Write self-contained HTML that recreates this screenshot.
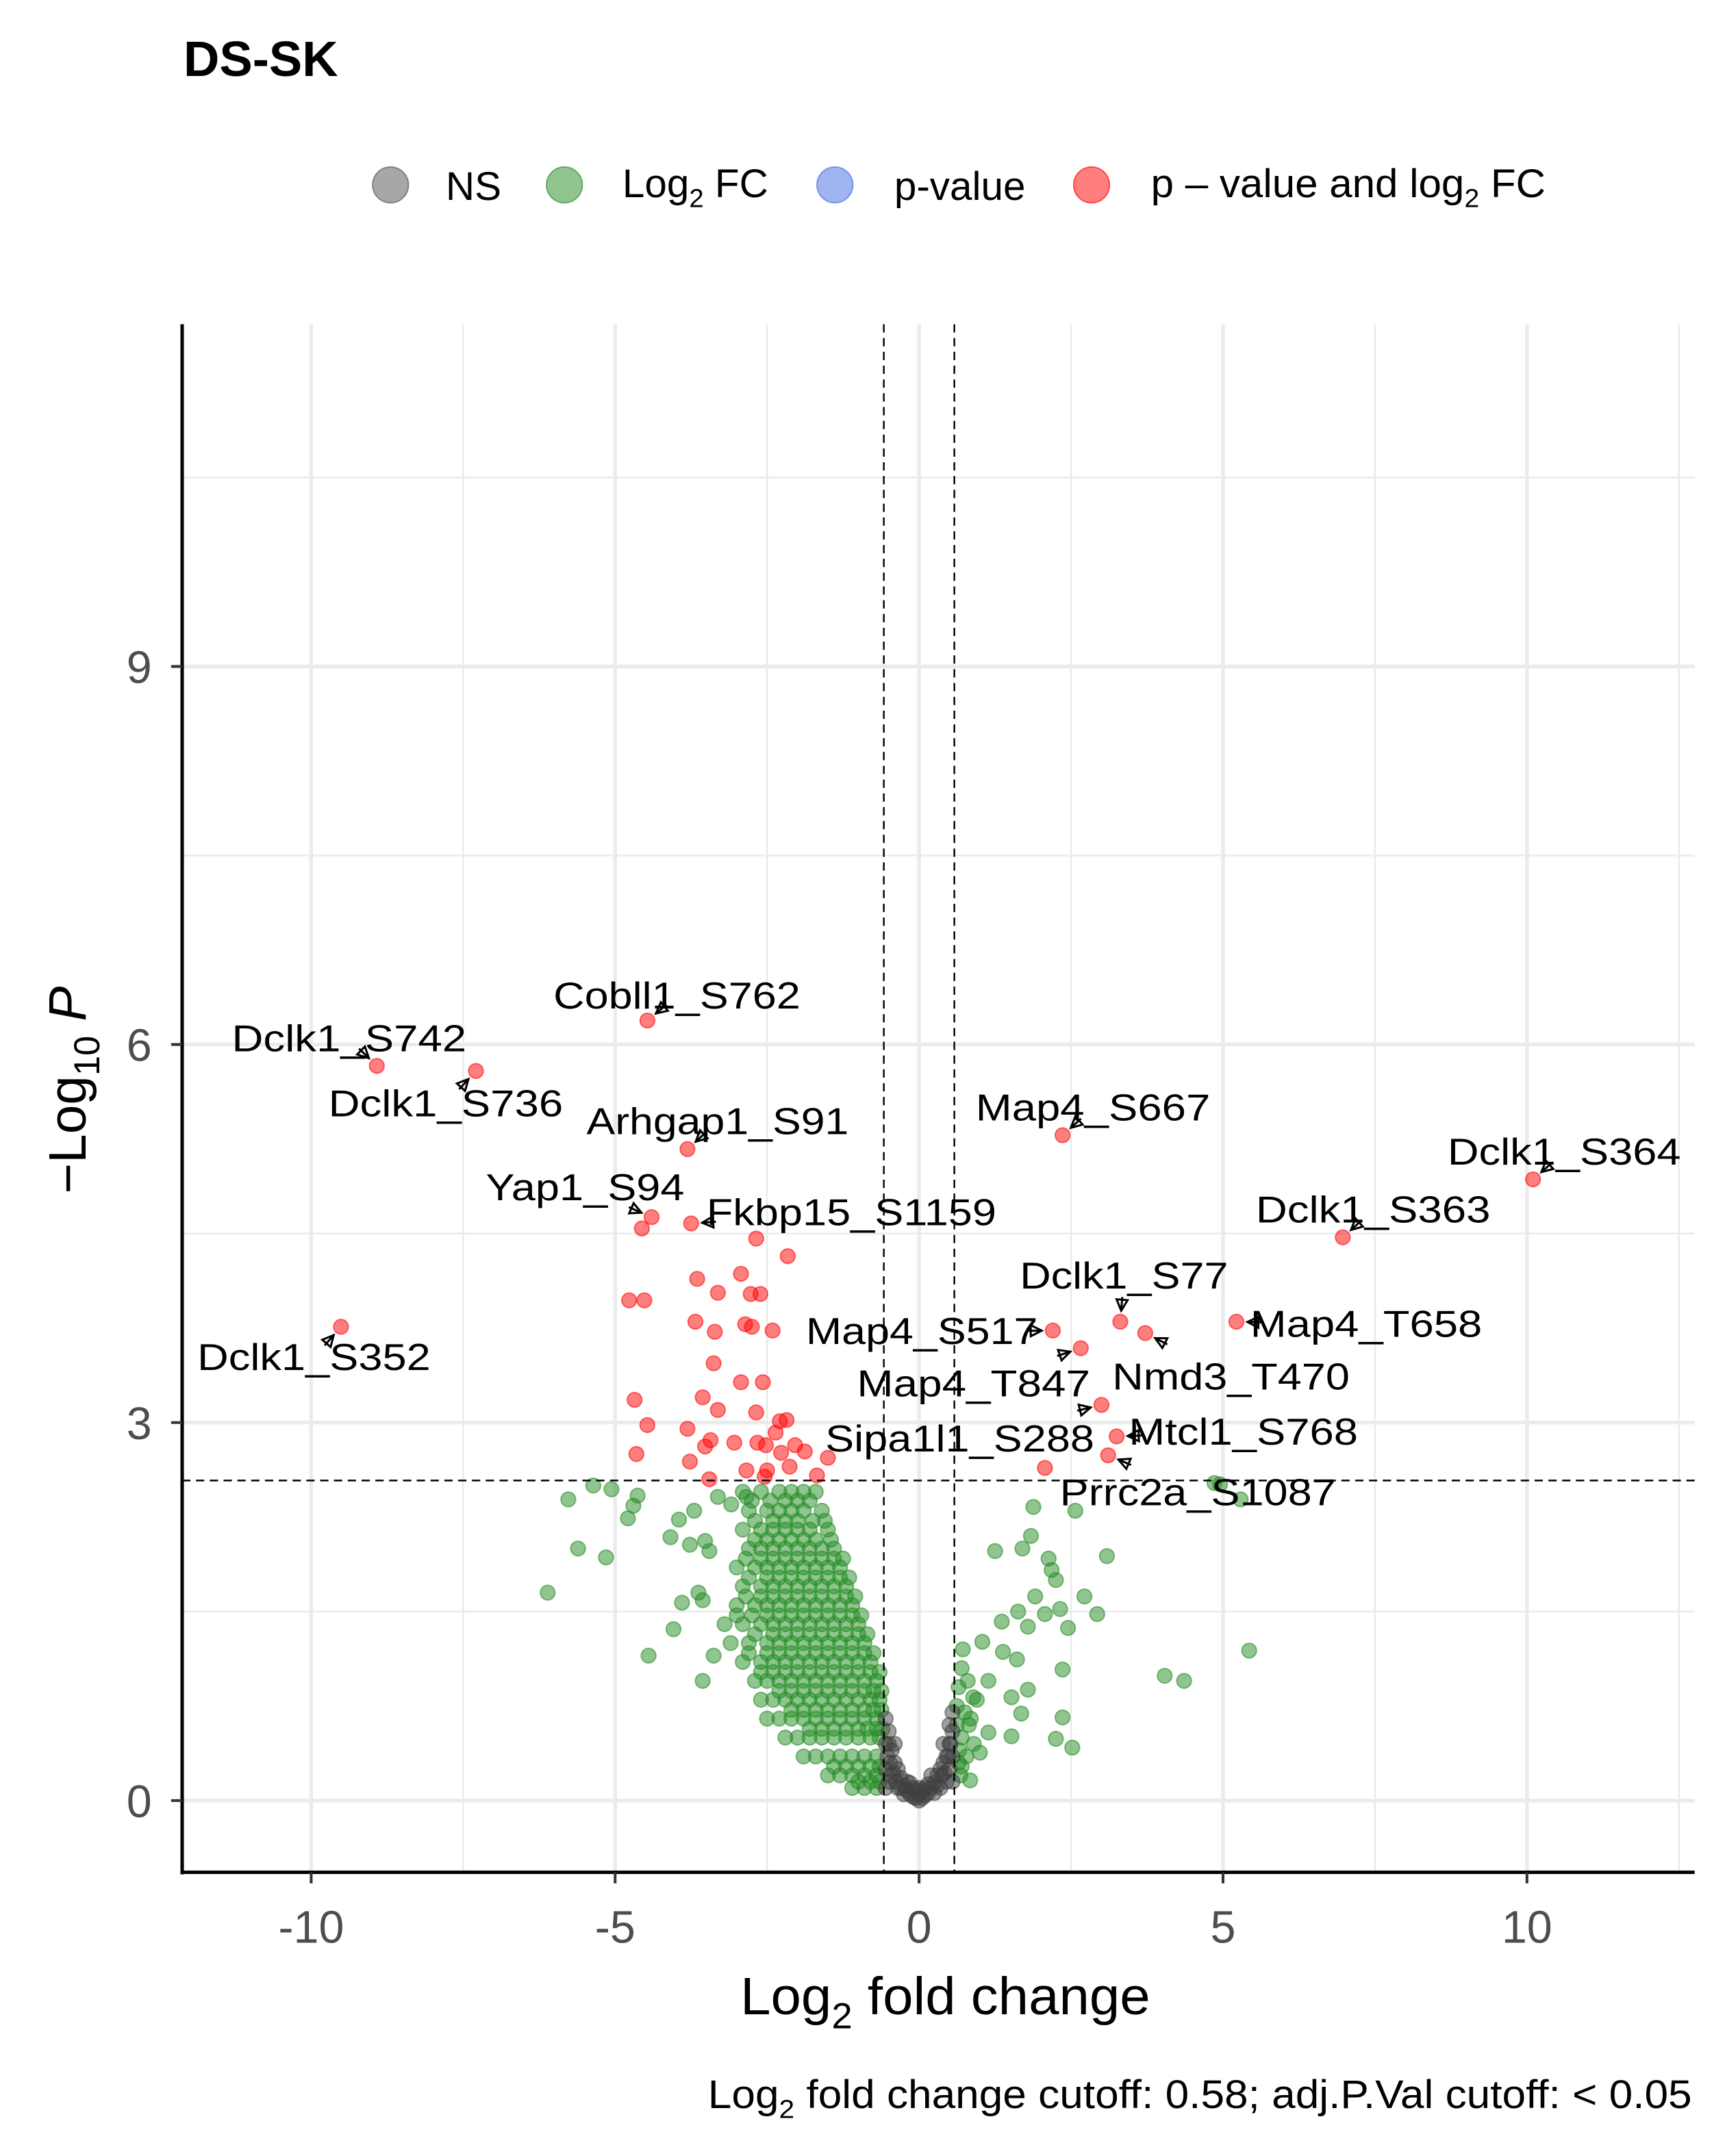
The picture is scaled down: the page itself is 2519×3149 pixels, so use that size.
<!DOCTYPE html>
<html><head><meta charset="utf-8"><style>html,body{margin:0;padding:0;background:#fff}svg{display:block}text{font-family:"Liberation Sans",Arial,sans-serif}</style></head>
<body>
<svg id="chart" width="2519" height="3149" viewBox="0 0 1250 1562.6" xmlns="http://www.w3.org/2000/svg">
<text x="133" y="55" font-size="36" font-weight="bold">DS-SK</text>
<g font-size="29">
 <circle cx="283" cy="134" r="13" fill="#505050" fill-opacity="0.5" stroke="#505050" stroke-opacity="0.6"/>
 <text x="323" y="145">NS</text>
 <circle cx="409" cy="134" r="13" fill="#228B22" fill-opacity="0.5" stroke="#228B22" stroke-opacity="0.6"/>
 <text x="451" y="143">Log<tspan font-size="19" dy="7">2</tspan><tspan dy="-7"> FC</tspan></text>
 <circle cx="605" cy="134" r="13" fill="#4169E1" fill-opacity="0.5" stroke="#4169E1" stroke-opacity="0.6"/>
 <text x="648" y="145">p-value</text>
 <circle cx="791" cy="134" r="13" fill="#FF0000" fill-opacity="0.5" stroke="#FF0000" stroke-opacity="0.6"/>
 <text x="834" y="143" textLength="286" lengthAdjust="spacingAndGlyphs">p – value and log<tspan font-size="19" dy="7">2</tspan><tspan dy="-7"> FC</tspan></text>
</g>
<g id="grid"></g>
<g id="marks"></g>
<g id="cutoffs"></g>
<g id="labels" font-size="27"></g>
<g id="axes"></g>
<text x="685" y="1460" font-size="38" text-anchor="middle" textLength="297" lengthAdjust="spacingAndGlyphs">Log<tspan font-size="26" dy="10">2</tspan><tspan dy="-10"> fold change</tspan></text>
<text transform="translate(62,790) rotate(-90)" font-size="38" text-anchor="middle">−Log<tspan font-size="26" dy="10">10</tspan><tspan dy="-10"> </tspan><tspan font-style="italic">P</tspan></text>
<text x="1226" y="1528" font-size="29" text-anchor="end" textLength="713" lengthAdjust="spacingAndGlyphs">Log<tspan font-size="19" dy="7">2</tspan><tspan dy="-7"> fold change cutoff: 0.58; adj.P.Val cutoff: &lt; 0.05</tspan></text>
</svg>
<script>
const xTicks=[-10,-5,0,5,10];
const xMinor=[-7.5,-2.5,2.5,7.5,12.5];
const yTicks=[0,3,6,9];
const yMinor=[1.5,4.5,7.5,10.5];
const fcCutoff=0.58;
const pCutoff=2.54;
const labelNames=["Cobll1_S762","Dclk1_S742","Dclk1_S736","Arhgap1_S91","Yap1_S94","Fkbp15_S1159","Map4_S667","Dclk1_S364","Dclk1_S363","Dclk1_S77","Map4_T658","Map4_S517","Nmd3_T470","Map4_T847","Sipa1l1_S288","Mtcl1_S768","Prrc2a_S1087","Dclk1_S352"];
const labelX=[-4.47,-8.92,-7.29,-3.81,-4.40,-3.75,2.36,10.10,6.97,3.31,5.22,2.20,3.72,2.66,3.00,3.25,3.11,-9.51];
const labelY=[6.19,5.83,5.79,5.17,4.63,4.58,5.28,4.93,4.47,3.80,3.80,3.73,3.71,3.59,3.14,2.89,2.74,3.76];
const redX=[-4.56,-2.68,-2.16,-3.65,-2.93,-3.31,-2.77,-2.61,-4.77,-4.52,-3.68,-2.86,-2.75,-2.41,-3.36,-3.38,-2.93,-4.68,-3.56,-2.57,-3.31,-2.68,-2.29,-2.18,-4.47,-3.81,-3.52,-3.43,-3.04,-2.66,-2.52,-2.04,-1.88,-1.50,-4.65,-3.77,-2.27,-2.13,-2.50,-3.45,-2.84,-1.68,-2.54,-2.36,2.07];
const redY=[4.54,4.46,4.32,4.14,4.18,4.03,4.02,4.02,3.97,3.97,3.80,3.78,3.76,3.73,3.72,3.47,3.32,3.18,3.20,3.32,3.10,3.08,3.01,3.02,2.98,2.95,2.81,2.86,2.84,2.84,2.82,2.82,2.77,2.72,2.75,2.69,2.76,2.65,2.62,2.55,2.62,2.58,2.57,2.92,2.64];
const greenX=[-6.11,-5.61,-5.15,-5.77,-5.36,-5.06,-4.70,-4.79,-4.63,-4.45,-4.04,-4.09,-3.95,-3.70,-3.77,-3.52,-3.45,-3.63,-3.56,-3.38,-3.31,-3.09,-2.84,-3.90,-3.56,
1.25,1.70,2.13,2.25,2.18,2.72,3.09,1.91,1.63,1.04,1.36,1.79,2.07,2.45,2.32,2.93,1.38,1.61,2.36,1.14,1.79,1.52,1.68,2.36,2.52,2.25,1.52,0.89,0.82,0.70,0.84,1.14,1.00,4.04,4.36,5.43,5.29,4.86,1.88,1.84,2.57,4.95,
0.65,0.75,0.70,0.90,0.65,0.80,0.95,0.70,0.62,0.68,0.78,0.62,0.72,0.85,0.66,
-2.9,-2.6,-2.3,-2.1,-1.9,-1.7,
-2.8,-2.5,-2.3,-2.1,-1.9,-1.6,
-2.9,-2.6,-2.4,-2.2,-2.0,-1.8,-1.5,
-2.8,-2.6,-2.4,-2.2,-2.0,-1.8,-1.6,-1.4,
-3.0,-2.7,-2.5,-2.3,-2.1,-1.9,-1.7,-1.5,-1.3,
-2.9,-2.6,-2.4,-2.2,-2.0,-1.8,-1.6,-1.4,-1.2,
-3.0,-2.7,-2.5,-2.3,-2.1,-1.9,-1.7,-1.5,-1.3,-1.1,
-3.2,-2.9,-2.6,-2.4,-2.2,-2.0,-1.8,-1.6,-1.4,-1.2,-1.0,
-3.1,-2.8,-2.5,-2.3,-2.1,-1.9,-1.7,-1.5,-1.3,-1.1,-0.9,
-2.9,-2.6,-2.4,-2.2,-2.0,-1.8,-1.6,-1.4,-1.2,-1.0,-0.8,
-2.7,-2.5,-2.3,-2.1,-1.9,-1.7,-1.5,-1.3,-1.1,-0.9,-0.7,
-2.6,-2.4,-2.2,-2.0,-1.8,-1.6,-1.4,-1.2,-1.0,-0.8,-0.65,
-2.5,-2.3,-2.1,-1.9,-1.7,-1.5,-1.3,-1.1,-0.9,-0.7,
-2.2,-2.0,-1.8,-1.6,-1.4,-1.2,-1.0,-0.8,-0.65,
-1.9,-1.7,-1.5,-1.3,-1.1,-0.9,-0.7,
-1.5,-1.3,-1.1,-0.9,-0.7,
-1.1,-0.9,-0.7,
-2.75,-2.45,-2.2,-2.0,-1.8,
-2.7,-2.4,-2.2,-2.0,-1.75,-1.55,
-2.7,-2.5,-2.3,-2.1,-1.9,-1.7,-1.45,
-2.85,-2.6,-2.4,-2.2,-2.0,-1.8,-1.6,-1.4,-1.25,
-2.8,-2.5,-2.3,-2.1,-1.9,-1.7,-1.5,-1.3,-1.15,
-2.85,-2.6,-2.4,-2.2,-2.0,-1.8,-1.6,-1.4,-1.2,-1.05,
-3.0,-2.75,-2.5,-2.3,-2.1,-1.9,-1.7,-1.5,-1.3,-1.1,-0.95,
-2.7,-2.4,-2.2,-2.0,-1.8,-1.6,-1.4,-1.2,-1.0,-0.85,
-2.8,-2.5,-2.3,-2.1,-1.9,-1.7,-1.5,-1.3,-1.1,-0.9,-0.75,
-2.6,-2.4,-2.2,-2.0,-1.8,-1.6,-1.4,-1.2,-1.0,-0.8,-0.65,
-2.3,-2.1,-1.9,-1.7,-1.5,-1.3,-1.1,-0.9,-0.75,-0.62,
-2.1,-1.9,-1.7,-1.5,-1.3,-1.1,-0.9,-0.75,-0.62,
-1.8,-1.6,-1.4,-1.2,-1.0,-0.85,-0.7,-0.6,
-1.4,-1.2,-1.0,-0.8,-0.65,
-1.0,-0.8,-0.65];
const greenY=[1.65,2.00,1.93,2.39,2.50,2.47,2.34,2.24,2.42,1.15,1.36,2.09,2.23,2.30,2.03,2.06,1.98,1.65,0.95,1.15,2.41,2.35,2.41,1.57,1.59,
1.98,2.00,1.92,1.75,1.83,1.62,1.94,1.62,1.50,1.26,1.42,1.38,1.48,1.37,1.52,1.48,1.18,1.12,1.04,0.95,0.88,0.82,0.69,0.66,0.42,0.49,0.51,0.82,0.60,0.27,0.16,0.54,0.38,0.99,0.95,1.19,2.39,2.52,2.33,2.10,2.30,2.51,
0.90,0.70,0.50,0.45,0.30,0.95,0.80,1.05,0.6,0.2,0.35,0.75,1.2,0.65,0.4,
2.45,2.45,2.45,2.45,2.45,2.45,
2.3,2.3,2.3,2.3,2.3,2.3,
2.15,2.15,2.15,2.15,2.15,2.15,2.15,
2.0,2.0,2.0,2.0,2.0,2.0,2.0,2.0,
1.85,1.85,1.85,1.85,1.85,1.85,1.85,1.85,1.85,
1.7,1.7,1.7,1.7,1.7,1.7,1.7,1.7,1.7,
1.55,1.55,1.55,1.55,1.55,1.55,1.55,1.55,1.55,1.55,
1.4,1.4,1.4,1.4,1.4,1.4,1.4,1.4,1.4,1.4,1.4,
1.25,1.25,1.25,1.25,1.25,1.25,1.25,1.25,1.25,1.25,1.25,
1.1,1.1,1.1,1.1,1.1,1.1,1.1,1.1,1.1,1.1,1.1,
0.95,0.95,0.95,0.95,0.95,0.95,0.95,0.95,0.95,0.95,0.95,
0.8,0.8,0.8,0.8,0.8,0.8,0.8,0.8,0.8,0.8,0.8,
0.65,0.65,0.65,0.65,0.65,0.65,0.65,0.65,0.65,0.65,
0.5,0.5,0.5,0.5,0.5,0.5,0.5,0.5,0.5,
0.35,0.35,0.35,0.35,0.35,0.35,0.35,
0.2,0.2,0.2,0.2,0.2,
0.1,0.1,0.1,
2.38,2.38,2.38,2.38,2.38,
2.22,2.22,2.22,2.22,2.22,2.22,
2.07,2.07,2.07,2.07,2.07,2.07,2.07,
1.92,1.92,1.92,1.92,1.92,1.92,1.92,1.92,1.92,
1.77,1.77,1.77,1.77,1.77,1.77,1.77,1.77,1.77,
1.62,1.62,1.62,1.62,1.62,1.62,1.62,1.62,1.62,1.62,
1.47,1.47,1.47,1.47,1.47,1.47,1.47,1.47,1.47,1.47,1.47,
1.32,1.32,1.32,1.32,1.32,1.32,1.32,1.32,1.32,1.32,
1.17,1.17,1.17,1.17,1.17,1.17,1.17,1.17,1.17,1.17,1.17,
1.02,1.02,1.02,1.02,1.02,1.02,1.02,1.02,1.02,1.02,1.02,
0.87,0.87,0.87,0.87,0.87,0.87,0.87,0.87,0.87,0.87,
0.72,0.72,0.72,0.72,0.72,0.72,0.72,0.72,0.72,
0.57,0.57,0.57,0.57,0.57,0.57,0.57,0.57,
0.27,0.27,0.27,0.27,0.27,
0.15,0.15,0.15];
const nsX=[-0.55,-0.55,-0.55,-0.5,-0.45,-0.45,-0.4,-0.35,-0.3,-0.25,-0.2,-0.15,-0.1,0,-0.05,0.05,0.1,0.15,0.2,0.25,0.3,0.35,0.4,0.45,0.5,0.55,0.5,0.55,0.45,-0.5,0.55,0,-0.2,0.2,-0.35,0.35,
-0.52,-0.48,-0.42,-0.38,-0.3,-0.25,-0.1,0.1,0.25,0.3,0.38,0.42,0.48,0.52,-0.55,0.55,-0.5,0.5,-0.4,0.4,-0.15,0.15,0,-0.05,0.05];
const nsY=[0.65,0.45,0.25,0.55,0.4,0.2,0.3,0.25,0.18,0.12,0.08,0.05,0.03,0.0,0.02,0.02,0.04,0.06,0.1,0.14,0.2,0.25,0.3,0.35,0.45,0.55,0.25,0.7,0.15,0.15,0.35,0.05,0.15,0.2,0.1,0.1,
0.35,0.3,0.22,0.15,0.1,0.05,0.1,0.1,0.06,0.12,0.2,0.22,0.35,0.45,0.1,0.15,0.45,0.6,0.45,0.45,0.14,0.13,0.1,0.08,0.08];
// layout (label text placement, display units)
const labelTextX=[401,168,238,425,352,512,707,1049,910,739,906,584,806,621,598,818,768,143];
const labelTextY=[731,762,809,822,870,888,812,844,886,934,969,974,1007,1012,1052,1047,1091,993];
const labelTextW=[179,170,170,190,144,210,170,169,170,151,168,168,172,169,195,166,200,169];

const L=132,R=1228,T=235,B=1357;
const sx=v=>666+44.05*v;
const sy=v=>1305-91.33*v;
const NS="http://www.w3.org/2000/svg";
function mk(tag,attrs,parent){const e=document.createElementNS(NS,tag);for(const k in attrs)e.setAttribute(k,attrs[k]);parent.appendChild(e);return e;}
const grid=document.getElementById('grid');
xMinor.forEach(v=>{const e=mk('line',{x1:sx(v),x2:sx(v),y1:T,y2:B,stroke:'#ebebeb','stroke-width':1.3},grid);

});
yMinor.forEach(v=>{const e=mk('line',{x1:L,x2:R,y1:sy(v),y2:sy(v),stroke:'#ebebeb','stroke-width':1.3},grid);

});
xTicks.forEach(v=>{const e=mk('line',{x1:sx(v),x2:sx(v),y1:T,y2:B,stroke:'#ebebeb','stroke-width':2.7},grid);

});
yTicks.forEach(v=>{const e=mk('line',{x1:L,x2:R,y1:sy(v),y2:sy(v),stroke:'#ebebeb','stroke-width':2.7},grid);

});
const marks=document.getElementById('marks');
function pts(xs,ys,col,name){xs.forEach((x,i)=>{const c=mk('circle',{cx:sx(x),cy:sy(ys[i]),r:5.3,fill:col,'fill-opacity':0.5,stroke:col,'stroke-opacity':0.55,'stroke-width':1},marks);

});}
pts(greenX,greenY,'#228B22','point-log2fc');
pts(nsX,nsY,'#404040','point-ns');
pts(redX,redY,'#FF0000','point-significant');
pts(labelX,labelY,'#FF0000','point-significant-labeled');
const cut=document.getElementById('cutoffs');
[-fcCutoff,fcCutoff].forEach(v=>{const e=mk('line',{x1:sx(v),x2:sx(v),y1:T,y2:B,stroke:'#000','stroke-width':1.2,'stroke-dasharray':'6,4'},cut);

});
{const e=mk('line',{x1:L,x2:R,y1:sy(pCutoff),y2:sy(pCutoff),stroke:'#000','stroke-width':1.2,'stroke-dasharray':'6,4'},cut);

}
const lab=document.getElementById('labels');
labelNames.forEach((n,i)=>{
 const t=mk('text',{x:labelTextX[i],y:labelTextY[i],textLength:labelTextW[i],lengthAdjust:'spacingAndGlyphs'},lab);
 t.textContent=n;
 
 
 const px=sx(labelX[i]),py=sy(labelY[i]);
 const cx=labelTextX[i]+labelTextW[i]/2,cy=labelTextY[i]-9;
 let dx=cx-px,dy=cy-py;const d=Math.hypot(dx,dy)||1;dx/=d;dy/=d;
 const ax=px+dx*8,ay=py+dy*8,bx=px+dx*18,by=py+dy*18;
 const nx=-dy,ny=dx;
 const a=mk('path',{d:`M${ax},${ay} L${ax+dx*8+nx*4},${ay+dy*8+ny*4} L${ax+dx*8-nx*4},${ay+dy*8-ny*4} Z M${ax},${ay} L${bx},${by}`,fill:'none',stroke:'#000','stroke-width':1.5},lab);
 
 
});
const ax=document.getElementById('axes');
mk('line',{x1:L,x2:L,y1:T,y2:B+1.5,stroke:'#000','stroke-width':2.5},ax);
mk('line',{x1:L-1,x2:R,y1:B,y2:B,stroke:'#000','stroke-width':2.5},ax);
xTicks.forEach(v=>{mk('line',{x1:sx(v),x2:sx(v),y1:B,y2:B+8,stroke:'#333','stroke-width':2},ax);
const t=mk('text',{x:sx(v),y:1408,'font-size':33,fill:'#4d4d4d','text-anchor':'middle'},ax);t.textContent=v;

});
yTicks.forEach(v=>{mk('line',{x1:L-8,x2:L,y1:sy(v),y2:sy(v),stroke:'#333','stroke-width':2},ax);
const t=mk('text',{x:110,y:sy(v)+12,'font-size':33,fill:'#4d4d4d','text-anchor':'end'},ax);t.textContent=v;

});
</script>
</body></html>
